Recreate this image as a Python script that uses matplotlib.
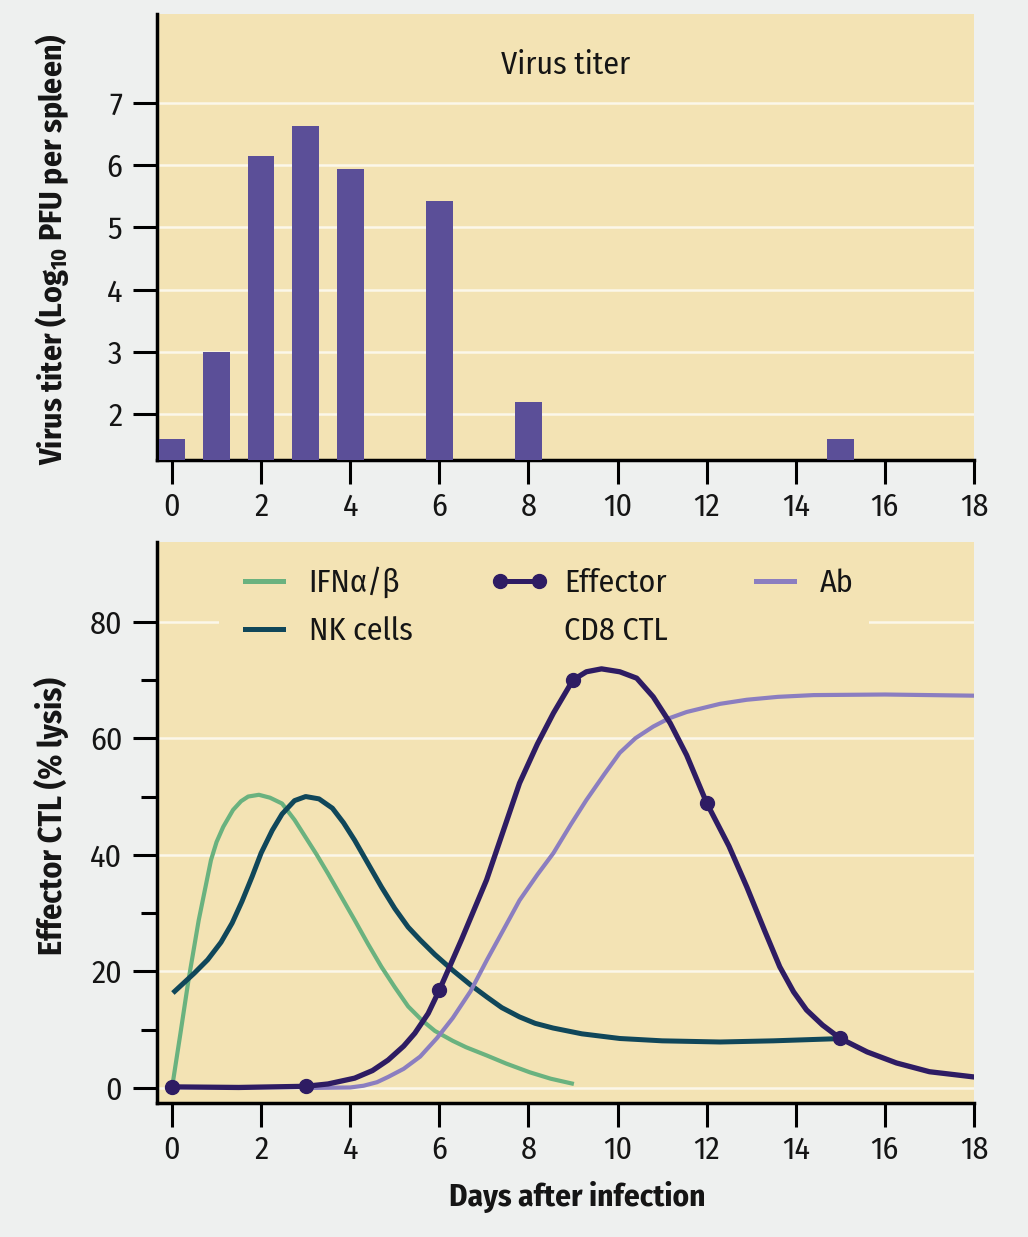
import matplotlib
matplotlib.use("Agg")
import matplotlib.pyplot as plt
from matplotlib import font_manager as fm
from matplotlib.lines import Line2D

# ---------------- data ----------------
bar_days = [0, 1, 2, 3, 4, 6, 8, 15]
bar_titer = [1.6, 3.0, 6.15, 6.63, 5.94, 5.42, 2.19, 1.6]

ifn_days = [0.0, 0.19, 0.37, 0.6, 0.875, 1.0, 1.15, 1.37, 1.55, 1.71, 1.95, 2.2, 2.47,
            2.75, 3.0, 3.25, 3.5, 3.8, 4.1, 4.4, 4.7, 5.0, 5.3, 5.6, 5.9, 6.3, 6.6,
            7.06, 7.5, 8.03, 8.5, 9.02]
ifn_vals = [0.0, 9.4, 18.5, 28.8, 39.1, 42.2, 44.8, 47.7, 49.2, 50.0, 50.3, 49.8, 48.8,
            46.0, 43.0, 40.0, 36.8, 32.8, 28.8, 24.7, 20.8, 17.3, 14.0, 11.7, 9.8, 8.1, 7.0,
            5.6, 4.2, 2.7, 1.6, 0.7]

nk_days = [0.02, 0.5, 0.8, 1.1, 1.35, 1.57, 1.8, 2.0, 2.25, 2.47, 2.75, 3.0, 3.3, 3.6,
           3.85, 4.1, 4.4, 4.7, 5.0, 5.3, 5.57, 5.9, 6.3, 6.7, 7.07, 7.4, 7.8, 8.15, 8.55,
           9.2, 10.05, 11.0, 12.3, 13.5, 15.06]
nk_vals = [16.3, 19.7, 22.0, 25.0, 28.3, 32.0, 36.3, 40.3, 44.2, 47.0, 49.3, 50.0, 49.6,
           48.0, 45.5, 42.5, 38.5, 34.5, 30.8, 27.6, 25.4, 22.9, 20.2, 17.7, 15.6, 13.8,
           12.2, 11.1, 10.3, 9.3, 8.5, 8.1, 7.9, 8.1, 8.5]

ctl_days = [0.0, 1.5, 3.0, 3.5, 4.1, 4.5, 4.85, 5.2, 5.45, 5.75, 6.0, 6.5, 7.06, 7.8,
            8.2, 8.56, 9.0, 9.3, 9.64, 10.05, 10.43, 10.8, 11.18, 11.55, 12.0, 12.5,
            12.9, 13.3, 13.64, 13.95, 14.24, 14.6, 15.0, 15.6, 16.26, 17.0, 18.0]
ctl_vals = [0.2, 0.1, 0.3, 0.7, 1.7, 3.0, 4.8, 7.2, 9.4, 12.8, 16.8, 25.5, 35.7, 52.3,
            59.0, 64.3, 70.0, 71.4, 71.9, 71.4, 70.3, 67.1, 62.6, 57.1, 48.9, 41.5,
            34.5, 27.0, 20.8, 16.5, 13.4, 10.8, 8.5, 6.2, 4.3, 2.8, 1.9]
ctl_mark_days = [0, 3, 6, 9, 12, 15]
ctl_mark_vals = [0.2, 0.3, 16.8, 70.0, 48.9, 8.5]

ab_days = [3.0, 4.0, 4.3, 4.6, 4.85, 5.2, 5.57, 5.95, 6.3, 6.7, 7.07, 7.45, 7.8, 8.2,
           8.56, 8.95, 9.3, 9.7, 10.05, 10.4, 10.8, 11.15, 11.55, 12.3, 12.9, 13.6,
           14.4, 16.0, 18.0]
ab_vals = [0.0, 0.1, 0.4, 1.0, 1.9, 3.3, 5.4, 8.6, 12.0, 16.6, 22.0, 27.3, 32.2, 36.6,
           40.3, 45.2, 49.4, 53.8, 57.5, 60.0, 62.0, 63.4, 64.5, 65.9, 66.6, 67.1,
           67.4, 67.5, 67.3]

x_ticks = [0, 2, 4, 6, 8, 10, 12, 14, 16, 18]
top_yticks = [2, 3, 4, 5, 6, 7]
bot_yticks = [0, 20, 40, 60, 80]
bot_minor = [10, 30, 50, 70]

# ---------------- fonts ----------------
def _w(f):
    w = f.weight
    if isinstance(w, str):
        w = fm.weight_dict.get(w, 400)
    return w

def has_face(fam, bold):
    for f in fm.fontManager.ttflist:
        if f.name == fam and f.style == 'normal':
            w = _w(f)
            if bold and w >= 650:
                return True
            if not bold and 350 <= w <= 450:
                return True
    return False

prefs = ['Fira Sans Condensed', 'PT Sans Narrow', 'Barlow Semi Condensed',
         'Encode Sans Condensed', 'IBM Plex Sans Condensed', 'Asap Condensed',
         'Roboto Condensed', 'Liberation Sans Narrow']
COND = next((p for p in prefs if has_face(p, False) and has_face(p, True)), 'DejaVu Sans')

plt.rcParams['font.family'] = [COND, 'DejaVu Sans']
plt.rcParams['mathtext.fontset'] = 'custom'
plt.rcParams['mathtext.rm'] = COND
plt.rcParams['mathtext.bf'] = COND + ':bold'

BG = '#F3E3B4'
FIG_BG = '#EEF0EF'
GRID = '#FBF7EA'
BAR = '#5B4F98'
GREEN = '#6AB27F'
NK = '#10475A'
CTL = '#2E1C63'
AB = '#8B7EC0'
TXT = '#151515'

fig = plt.figure(figsize=(10.28, 12.37), dpi=100, facecolor=FIG_BG)

def style_axes(ax):
    ax.set_facecolor(BG)
    for s in ('top', 'right'):
        ax.spines[s].set_visible(False)
    for s in ('left', 'bottom'):
        ax.spines[s].set_linewidth(2.5)
        ax.spines[s].set_color('black')
    ax.tick_params(which='major', direction='out', length=17, width=2.2, color='black',
                   labelsize=23, pad=6, labelcolor=TXT)
    ax.tick_params(which='minor', direction='out', length=11.5, width=2.2, color='black')
    ax.set_xticks(x_ticks)
    ax.set_xlim(-0.337, 18.0)

# ---------------- top: virus titer ----------------
ax1 = fig.add_axes([0.1527, 0.6281, 0.7948, 0.3606])
style_axes(ax1)
for v in top_yticks:
    ax1.axhline(v, color=GRID, lw=1.8, zorder=1)
ax1.bar(bar_days, bar_titer, width=0.6, color=BAR, zorder=3)
ax1.set_ylim(1.26, 8.43)
ax1.set_yticks(top_yticks)
ax1.tick_params(axis='y', pad=8)
ax1.text(0.5, 0.886, 'Virus titer', transform=ax1.transAxes, ha='center', va='center',
         fontsize=23, color=TXT)
ax1.set_ylabel(r'Virus titer (Log$_{\mathbf{10}}$ PFU per spleen)', fontsize=22.8,
               fontweight='bold', va='center', color=TXT)
ax1.yaxis.set_label_coords(-0.1285, 0.472)

# ---------------- bottom: responses ----------------
ax2 = fig.add_axes([0.1527, 0.1083, 0.7948, 0.4535])
style_axes(ax2)
for v in bot_yticks:
    ax2.axhline(v, color=GRID, lw=1.8, zorder=1)
ax2.set_ylim(-2.57, 93.65)
ax2.set_yticks(bot_yticks)
ax2.set_yticks(bot_minor, minor=True)
ax2.tick_params(axis='y', which='major', pad=8)

ax2.plot(ifn_days, ifn_vals, color=GREEN, lw=3.0, zorder=3, solid_capstyle='butt',
         solid_joinstyle='round')
ax2.plot(nk_days, nk_vals, color=NK, lw=3.6, zorder=4, solid_capstyle='butt',
         solid_joinstyle='round')
ax2.plot(ab_days, ab_vals, color=AB, lw=3.0, zorder=4, solid_capstyle='butt',
         solid_joinstyle='round')
ax2.plot(ctl_days, ctl_vals, color=CTL, lw=3.8, zorder=5, solid_capstyle='round',
         solid_joinstyle='round')
ax2.plot(ctl_mark_days, ctl_mark_vals, 'o', color=CTL, ms=10, zorder=6)

ax2.set_ylabel('Effector CTL (% lysis)', fontsize=23, fontweight='bold', va='center',
               color=TXT)
ax2.yaxis.set_label_coords(-0.1285, 0.512)
ax2.set_xlabel('Days after infection', fontsize=22.5, fontweight='bold', va='center',
               color=TXT)
ax2.xaxis.set_label_coords(0.514, -0.1676)

h_ifn = Line2D([], [], color=GREEN, lw=3.6)
h_nk = Line2D([], [], color=NK, lw=3.6)
h_ctl = Line2D([], [], color=CTL, lw=3.6, marker='o', ms=10)
h_ab = Line2D([], [], color=AB, lw=3.6)
h_blank = Line2D([], [], color='none')
leg = ax2.legend([h_ifn, h_nk, h_ctl, h_blank, h_ab, h_blank],
                 ['IFNα/β', 'NK cells', 'Effector', 'CD8 CTL', 'Ab', ''],
                 ncol=3, loc='upper left', bbox_to_anchor=(0.076, 0.985),
                 borderaxespad=0, borderpad=0.5, fontsize=23, handlelength=1.8,
                 handletextpad=0.5, columnspacing=2.45, labelspacing=0.55,
                 numpoints=2, frameon=True, fancybox=False, labelcolor=TXT)
leg.get_frame().set_facecolor(BG)
leg.get_frame().set_edgecolor('none')
leg.get_frame().set_alpha(1)
leg.set_zorder(2)

fig.savefig('out.png', dpi=100, facecolor=FIG_BG)
